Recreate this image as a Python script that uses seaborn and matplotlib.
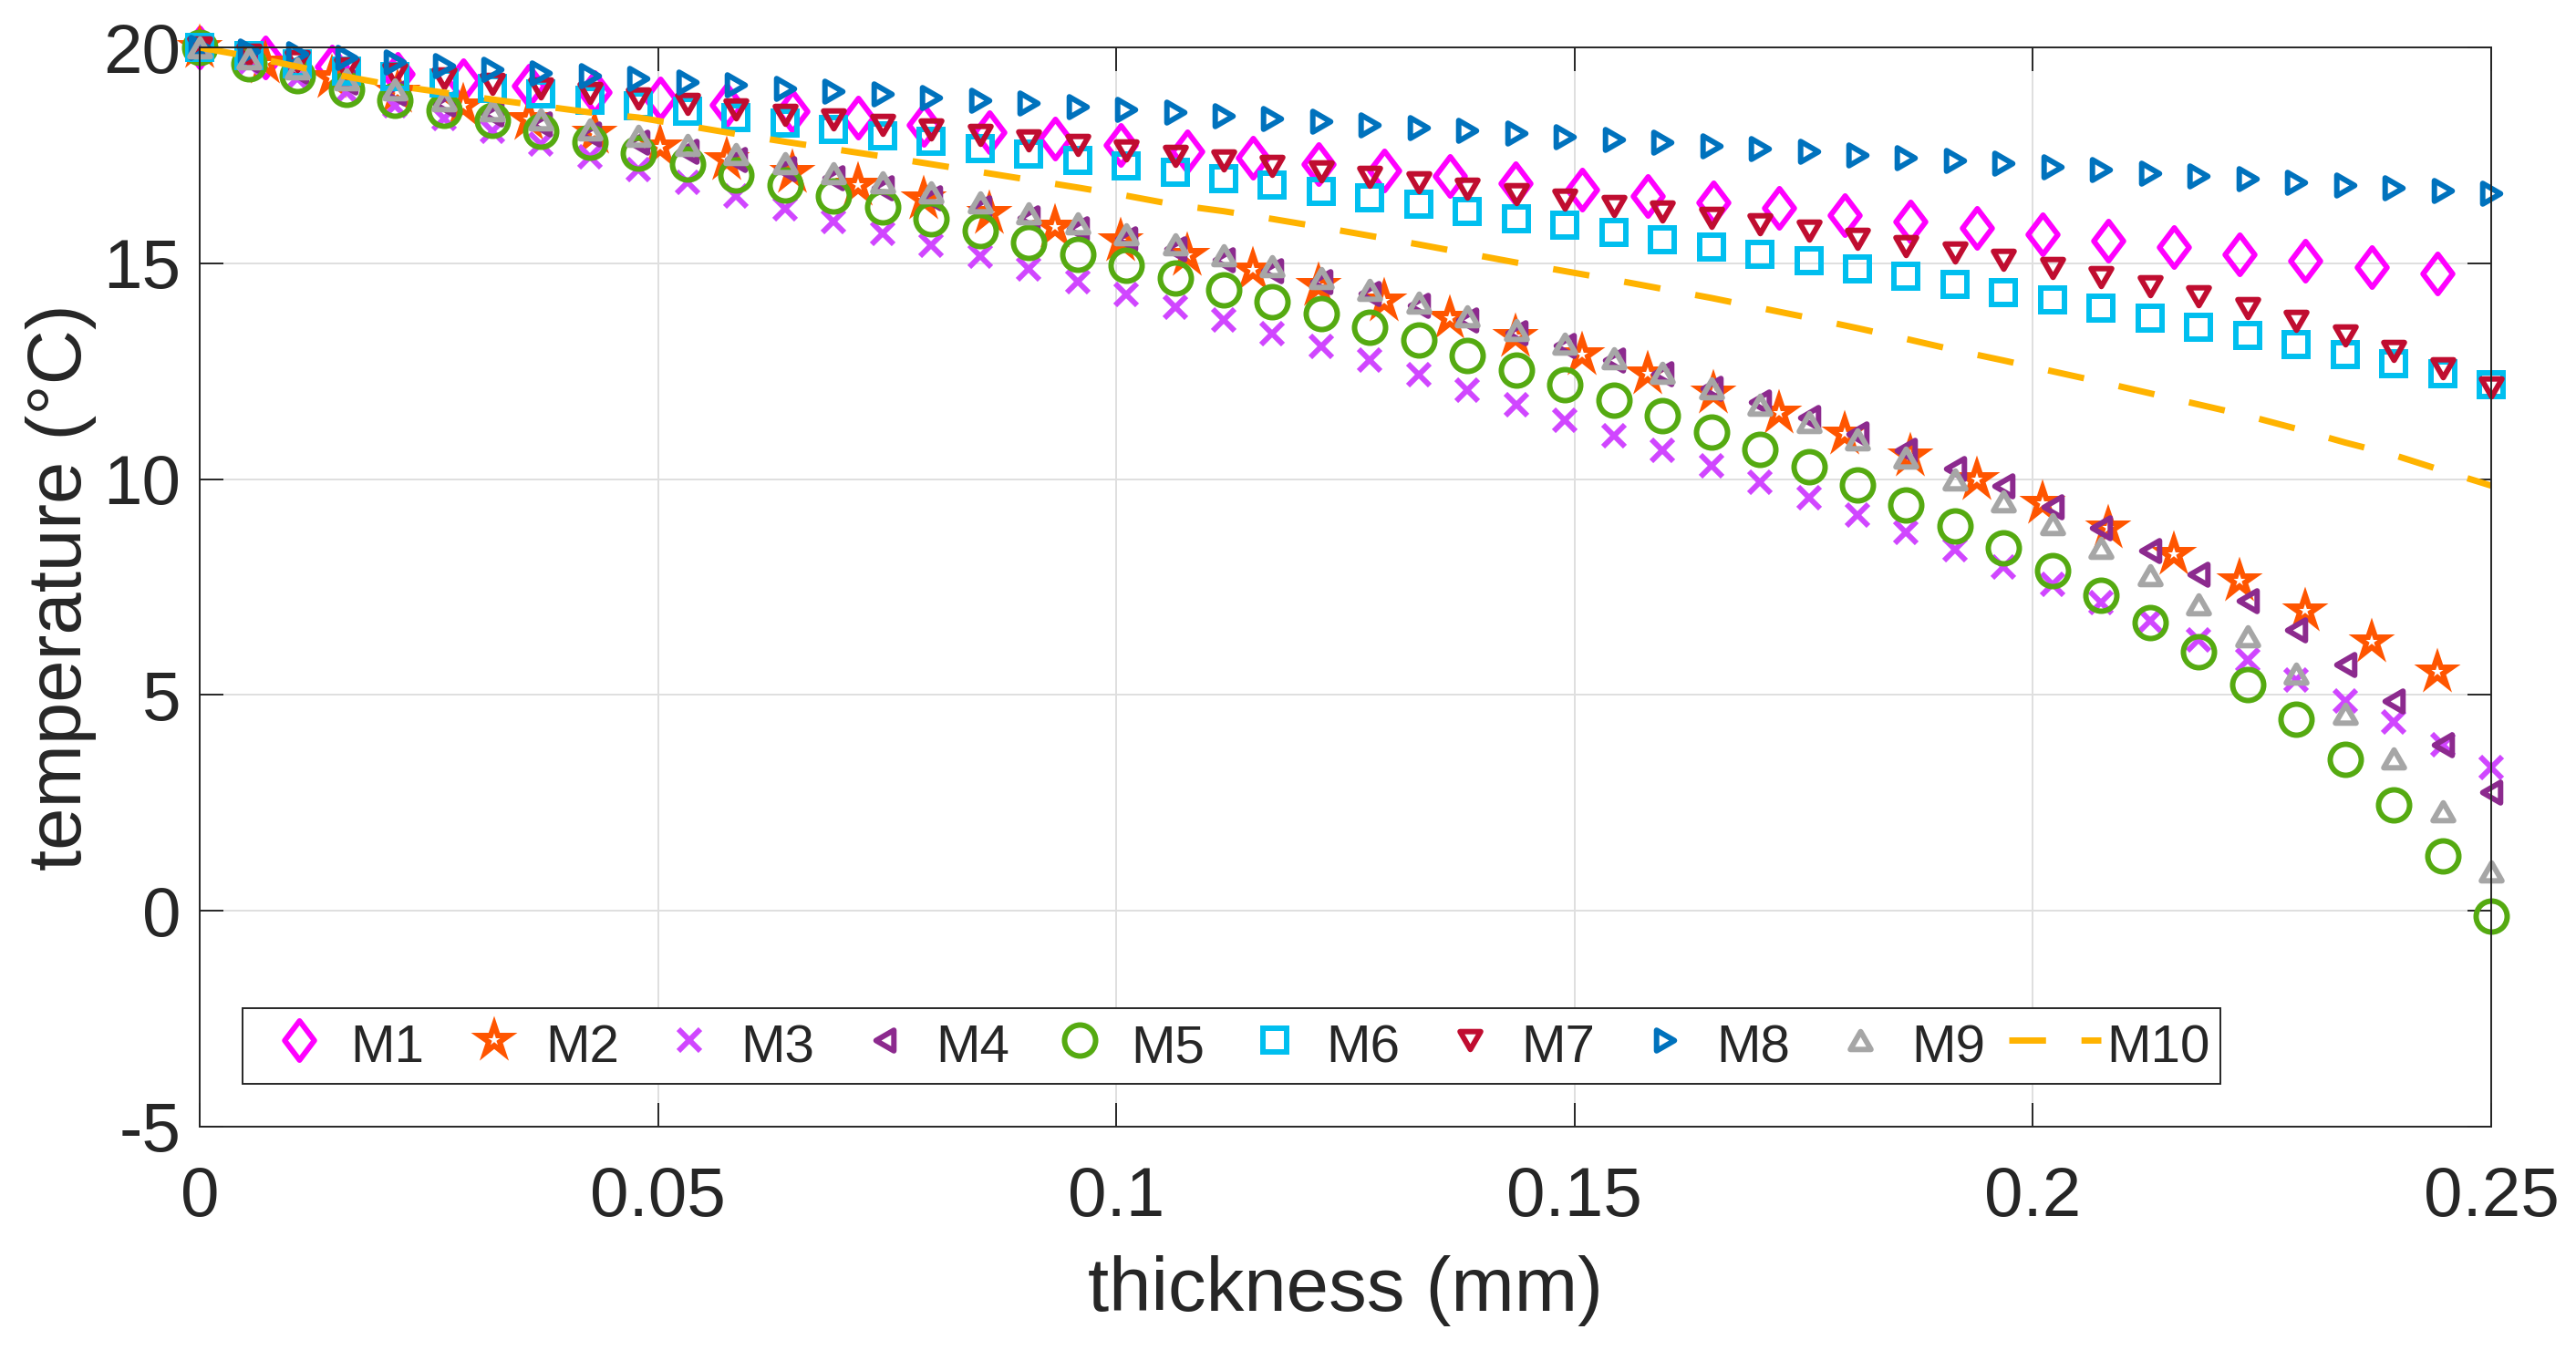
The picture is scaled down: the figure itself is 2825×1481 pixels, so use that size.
import numpy as np
import seaborn as sns
from matplotlib import pyplot as plt
from matplotlib.markers import MarkerStyle
from matplotlib.path import Path

sns.set_style("ticks")
plt.rcParams["font.family"] = ["Liberation Sans", "DejaVu Sans"]
plt.rcParams["axes.unicode_minus"] = False

# thickness grids (mm): most models share the fine grid, M1 and M2 are coarser
x_fine = np.linspace(0, 0.25, 48)
x_coarse = np.linspace(0, 0.2441, 35)

# temperatures (degC)
m1 = [20.00, 19.78, 19.57, 19.40, 19.25, 19.11, 18.97, 18.83, 18.68, 18.53,
      18.37, 18.21, 18.05, 17.90, 17.74, 17.59, 17.45, 17.31, 17.16, 17.02,
      16.86, 16.71, 16.56, 16.42, 16.28, 16.12, 15.97, 15.83, 15.68, 15.53,
      15.37, 15.21, 15.07, 14.91, 14.76]
m2 = [20.00, 19.64, 19.31, 18.98, 18.66, 18.34, 18.02, 17.71, 17.41, 17.11,
      16.81, 16.49, 16.17, 15.85, 15.52, 15.19, 14.85, 14.50, 14.13, 13.74,
      13.32, 12.89, 12.45, 12.00, 11.54, 11.05, 10.55, 10.00, 9.44, 8.88,
      8.26, 7.65, 6.96, 6.24, 5.53]
m3 = [20.00, 19.62, 19.28, 18.97, 18.66, 18.36, 18.06, 17.76, 17.47, 17.18,
      16.88, 16.56, 16.26, 15.97, 15.69, 15.43, 15.16, 14.88, 14.58, 14.28,
      13.99, 13.68, 13.37, 13.07, 12.75, 12.42, 12.07, 11.72, 11.36, 11.01,
      10.66, 10.31, 9.94, 9.56, 9.17, 8.77, 8.37, 7.97, 7.56, 7.14,
      6.71, 6.27, 5.82, 5.35, 4.87, 4.37, 3.85, 3.31]
m4 = [20.00, 19.72, 19.46, 19.20, 18.95, 18.70, 18.46, 18.23, 18.00, 17.80,
      17.60, 17.40, 17.19, 16.98, 16.75, 16.52, 16.29, 16.05, 15.81, 15.57,
      15.33, 15.08, 14.83, 14.57, 14.30, 14.02, 13.70, 13.40, 13.10, 12.76,
      12.44, 12.10, 11.79, 11.43, 11.05, 10.66, 10.25, 9.85, 9.36, 8.88,
      8.35, 7.79, 7.19, 6.50, 5.71, 4.85, 3.85, 2.75]
m5 = [20.00, 19.63, 19.35, 19.04, 18.79, 18.55, 18.31, 18.06, 17.81, 17.55,
      17.30, 17.05, 16.81, 16.56, 16.30, 16.03, 15.77, 15.49, 15.22, 14.95,
      14.67, 14.39, 14.11, 13.83, 13.53, 13.22, 12.86, 12.52, 12.19, 11.84,
      11.47, 11.10, 10.70, 10.28, 9.86, 9.41, 8.92, 8.40, 7.87, 7.31,
      6.68, 5.99, 5.25, 4.44, 3.50, 2.45, 1.26, -0.13]
m6 = [20.00, 19.81, 19.63, 19.46, 19.32, 19.18, 19.05, 18.92, 18.79, 18.66,
      18.52, 18.38, 18.25, 18.11, 17.96, 17.82, 17.67, 17.53, 17.39, 17.25,
      17.11, 16.96, 16.82, 16.67, 16.52, 16.37, 16.20, 16.04, 15.88, 15.71,
      15.55, 15.39, 15.22, 15.06, 14.88, 14.70, 14.51, 14.33, 14.15, 13.96,
      13.74, 13.53, 13.33, 13.11, 12.89, 12.67, 12.44, 12.19]
m7 = [20.00, 19.84, 19.68, 19.53, 19.40, 19.28, 19.16, 19.05, 18.95, 18.83,
      18.69, 18.57, 18.45, 18.34, 18.22, 18.10, 17.98, 17.86, 17.74, 17.62,
      17.50, 17.38, 17.26, 17.13, 17.01, 16.88, 16.74, 16.60, 16.48, 16.34,
      16.20, 16.05, 15.90, 15.75, 15.58, 15.41, 15.26, 15.08, 14.89, 14.69,
      14.47, 14.23, 13.96, 13.66, 13.33, 12.97, 12.56, 12.13]
m8 = [20.00, 19.93, 19.86, 19.77, 19.67, 19.58, 19.50, 19.42, 19.35, 19.28,
      19.21, 19.14, 19.06, 18.99, 18.92, 18.85, 18.78, 18.71, 18.64, 18.57,
      18.50, 18.43, 18.36, 18.29, 18.22, 18.15, 18.08, 18.01, 17.94, 17.87,
      17.80, 17.72, 17.66, 17.59, 17.52, 17.46, 17.39, 17.32, 17.24, 17.17,
      17.10, 17.03, 16.96, 16.89, 16.82, 16.76, 16.69, 16.63]
m9 = [20.00, 19.76, 19.51, 19.27, 19.03, 18.79, 18.55, 18.33, 18.11, 17.95,
      17.75, 17.54, 17.32, 17.10, 16.87, 16.64, 16.41, 16.17, 15.93, 15.68,
      15.44, 15.18, 14.93, 14.66, 14.39, 14.10, 13.77, 13.45, 13.14, 12.81,
      12.46, 12.10, 11.72, 11.33, 10.93, 10.49, 9.99, 9.48, 8.96, 8.40,
      7.77, 7.10, 6.35, 5.49, 4.56, 3.53, 2.31, 0.90]
m10 = [20.00, 19.80, 19.56, 19.33, 19.12, 18.96, 18.80, 18.65, 18.50, 18.38,
       18.19, 18.00, 17.82, 17.65, 17.48, 17.30, 17.12, 16.94, 16.76, 16.57,
       16.36, 16.21, 16.03, 15.84, 15.64, 15.44, 15.23, 15.02, 14.82, 14.62,
       14.41, 14.20, 13.97, 13.74, 13.50, 13.25, 12.99, 12.75, 12.50, 12.25,
       11.99, 11.73, 11.47, 11.17, 10.85, 10.56, 10.20, 9.85]

xticks = [0, 0.05, 0.1, 0.15, 0.2, 0.25]
xtick_labels = ["0", "0.05", "0.1", "0.15", "0.2", "0.25"]
yticks = [-5, 0, 5, 10, 15, 20]
ytick_labels = ["-5", "0", "5", "10", "15", "20"]


def shape(verts):
    # closed outline marker with sharp corners, like MATLAB's
    path = Path(verts + [verts[0]], closed=True)
    return MarkerStyle(path, joinstyle="miter")


h = np.sqrt(3) / 2
tri_up = shape([(0, h / 2), (-0.5, -h / 2), (0.5, -h / 2)])
tri_down = shape([(0, -h / 2), (0.5, h / 2), (-0.5, h / 2)])
tri_left = shape([(-h / 2, 0), (h / 2, -0.5), (h / 2, 0.5)])
tri_right = shape([(h / 2, 0), (-h / 2, 0.5), (-h / 2, -0.5)])
diamond = shape([(0, 0.5), (0.378, 0), (0, -0.5), (-0.378, 0)])
star = MarkerStyle("*", joinstyle="miter")

fig, ax = plt.subplots(figsize=(28.25, 14.81), dpi=100)
fig.subplots_adjust(left=0.0776, right=0.9671, bottom=0.1656, top=0.9647)

mew = 4.3
series = [
    (x_coarse, m1, "M1", "#FF00FF", diamond, 31, "none"),
    (x_coarse, m2, "M2", "#FF5500", star, 24.5, "white"),
    (x_fine, m3, "M3", "#D046FF", "x", 17, "none"),
    (x_fine, m4, "M4", "#8C2A8E", tri_left, 16.3, "none"),
    (x_fine, m5, "M5", "#55AA11", "o", 24.5, "none"),
    (x_fine, m6, "M6", "#00BFEF", "s", 18.7, "none"),
    (x_fine, m7, "M7", "#C00D30", tri_down, 16.3, "none"),
    (x_fine, m8, "M8", "#0072BD", tri_right, 16.3, "none"),
    (x_fine, m9, "M9", "#A6A6A6", tri_up, 16.3, "none"),
]
for xs, ys, name, col, mk, ms, face in series:
    sns.lineplot(x=xs, y=ys, ax=ax, label=name, color=col, marker=mk,
                 markersize=ms, markerfacecolor=face, markeredgecolor=col,
                 markeredgewidth=mew, linestyle="none", errorbar=None,
                 clip_on=False)

sns.lineplot(x=x_fine, y=m10, ax=ax, label="M10", color="#FFB300", lw=5,
             linestyle=(0, (5.8, 5.6)), errorbar=None)

ax.set_xlim(0, 0.25)
ax.set_ylim(-5, 20)
ax.set_xticks(xticks)
ax.set_xticklabels(xtick_labels)
ax.set_yticks(yticks)
ax.set_yticklabels(ytick_labels)
ax.grid(True, color="#DFDFDF", lw=1.4)
ax.set_axisbelow(True)
for s in ax.spines.values():
    s.set_visible(True)
    s.set_linewidth(1.4)
    s.set_color("#262626")
ax.tick_params(direction="in", length=19, width=1.4, top=True, right=True,
               labelsize=55, colors="#262626")
ax.tick_params(axis="x", pad=31)
ax.tick_params(axis="y", pad=15)

ax.set_xlabel("thickness (mm)", fontsize=60, labelpad=19.5, color="#262626")
ax.set_ylabel("temperature (°C)", fontsize=60, labelpad=5, color="#262626")

leg = ax.legend(loc="lower left", bbox_to_anchor=(0.0186, 0.0397), ncol=10,
                fontsize=42, frameon=True, fancybox=False, framealpha=1,
                edgecolor="#262626", borderpad=0.2, borderaxespad=0,
                handlelength=1.73, handleheight=1.1, handletextpad=0.1,
                columnspacing=0.45)
leg.get_frame().set_linewidth(1.4)

plt.savefig("out.png", dpi=100)
